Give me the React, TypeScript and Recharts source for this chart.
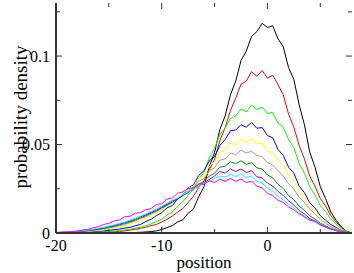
import React from 'react';
import { LineChart, Line, XAxis, YAxis } from 'recharts';

// positions (x grid)
const positions = [
  -20, -19.5, -19, -18.5, -18, -17.5, -17, -16.5, -16, -15.5, -15, -14.5, -14, -13.5, -13, -12.5,
  -12, -11.5, -11, -10.5, -10, -9.5, -9, -8.5, -8, -7.5, -7, -6.5, -6, -5.5, -5, -4.5,
  -4, -3.5, -3, -2.5, -2, -1.5, -1, -0.5, 0, 0.5, 1, 1.5, 2, 2.5, 3, 3.5,
  4, 4.5, 5, 5.5, 6, 6.5, 7, 7.5, 8,
];

const blackSeries = [
  0, 0, 0, 0, 0, 0, 0, 0, 0, 0, 0, 0.0001, 0.0001, 0.0002, 0.0002, 0.0003,
  0.0004, 0.0006, 0.0008, 0.0012, 0.002, 0.003, 0.0042, 0.0062, 0.0075, 0.0112, 0.0135, 0.0205, 0.0262, 0.0375, 0.0455, 0.0585,
  0.0662, 0.0781, 0.0858, 0.0975, 0.1028, 0.1112, 0.1138, 0.1185, 0.1162, 0.1171, 0.1098, 0.1052, 0.0935, 0.0868, 0.0725, 0.0612,
  0.0458, 0.0372, 0.0262, 0.0195, 0.0118, 0.0072, 0.0034, 0.0009, 0,
];
const redSeries = [
  0, 0, 0, 0, 0.0001, 0.0001, 0.0002, 0.0002, 0.0003, 0.0004, 0.0005, 0.0007, 0.0009, 0.0012, 0.0016, 0.0021,
  0.0026, 0.0033, 0.0042, 0.0048, 0.0062, 0.0078, 0.0096, 0.0118, 0.0138, 0.0172, 0.0208, 0.0256, 0.0295, 0.0358, 0.0415, 0.0522,
  0.0595, 0.0692, 0.0762, 0.0841, 0.0858, 0.0912, 0.0886, 0.0918, 0.0875, 0.0892, 0.0838, 0.0781, 0.0672, 0.0598, 0.0495, 0.0418,
  0.0322, 0.0265, 0.0195, 0.0152, 0.0098, 0.0062, 0.0029, 0.0009, 0,
];
const greenSeries = [
  0, 0, 0.0001, 0.0001, 0.0002, 0.0002, 0.0003, 0.0004, 0.0005, 0.0007, 0.0009, 0.0011, 0.0014, 0.0018, 0.0022, 0.0028,
  0.0032, 0.0042, 0.0052, 0.0065, 0.0078, 0.0102, 0.0118, 0.0152, 0.0176, 0.0214, 0.0246, 0.0305, 0.0342, 0.0425, 0.0478, 0.0558,
  0.0592, 0.0648, 0.0662, 0.0701, 0.0685, 0.0722, 0.0698, 0.0712, 0.0676, 0.0681, 0.0622, 0.0598, 0.0528, 0.0482, 0.0392, 0.0338,
  0.0262, 0.0215, 0.0155, 0.0122, 0.0078, 0.0051, 0.0024, 0.0008, 0,
];
const blueSeries = [
  0.0001, 0.0001, 0.0002, 0.0003, 0.0004, 0.0005, 0.0006, 0.0008, 0.001, 0.0012, 0.0015, 0.0019, 0.0022, 0.0028, 0.0032, 0.0041,
  0.0048, 0.0065, 0.0078, 0.0098, 0.0115, 0.0142, 0.0155, 0.0192, 0.0212, 0.0255, 0.0272, 0.0325, 0.0352, 0.0408, 0.0432, 0.0495,
  0.0528, 0.0578, 0.0582, 0.0612, 0.0598, 0.0625, 0.0592, 0.0596, 0.0551, 0.0538, 0.0472, 0.0438, 0.0372, 0.0338, 0.0265, 0.0228,
  0.0172, 0.0142, 0.0098, 0.0072, 0.0048, 0.0031, 0.0014, 0.0005, 0,
];
const yellowSeries = [
  0.0001, 0.0002, 0.0003, 0.0004, 0.0005, 0.0007, 0.0009, 0.0011, 0.0014, 0.0018, 0.0022, 0.0028, 0.0032, 0.0041, 0.0048, 0.0062,
  0.0071, 0.0088, 0.0098, 0.0118, 0.0128, 0.0152, 0.0165, 0.0195, 0.0212, 0.0252, 0.0265, 0.0305, 0.0322, 0.0378, 0.0402, 0.0458,
  0.0472, 0.0508, 0.0498, 0.0528, 0.0512, 0.0532, 0.0505, 0.0508, 0.0462, 0.0455, 0.0412, 0.0385, 0.0325, 0.0292, 0.0235, 0.0202,
  0.0155, 0.0122, 0.0088, 0.0062, 0.0039, 0.0025, 0.0012, 0.0004, 0,
];
const brownSeries = [
  0.0001, 0.0002, 0.0003, 0.0005, 0.0006, 0.0008, 0.0011, 0.0014, 0.0018, 0.0022, 0.0028, 0.0034, 0.0041, 0.0048, 0.0058, 0.0068,
  0.0082, 0.0092, 0.0108, 0.0121, 0.0138, 0.0155, 0.0172, 0.0195, 0.0212, 0.0242, 0.0258, 0.0292, 0.0308, 0.0352, 0.0368, 0.0412,
  0.0418, 0.0452, 0.0442, 0.0468, 0.0452, 0.0462, 0.0438, 0.0432, 0.0398, 0.0385, 0.0352, 0.0322, 0.0278, 0.0248, 0.0202, 0.0172,
  0.0135, 0.0108, 0.0078, 0.0055, 0.0036, 0.0022, 0.0011, 0.0004, 0,
];
const darkGreenSeries = [
  0.0002, 0.0003, 0.0004, 0.0006, 0.0008, 0.001, 0.0013, 0.0017, 0.0021, 0.0026, 0.0032, 0.0038, 0.0046, 0.0054, 0.0063, 0.0074,
  0.0086, 0.0098, 0.0112, 0.0125, 0.0142, 0.0158, 0.0175, 0.0192, 0.0212, 0.0232, 0.0251, 0.0275, 0.0292, 0.0322, 0.0338, 0.0372,
  0.0378, 0.0402, 0.0392, 0.0408, 0.0388, 0.0398, 0.0368, 0.0362, 0.0328, 0.0312, 0.0275, 0.0252, 0.0212, 0.0188, 0.0152, 0.0128,
  0.0098, 0.0078, 0.0056, 0.0041, 0.0026, 0.0016, 0.0008, 0.0003, 0,
];
const violetSeries = [
  0.0002, 0.0003, 0.0005, 0.0007, 0.0009, 0.0012, 0.0015, 0.0019, 0.0024, 0.0029, 0.0036, 0.0042, 0.0051, 0.0058, 0.0068, 0.0078,
  0.0092, 0.0102, 0.0118, 0.0128, 0.0148, 0.0162, 0.0182, 0.0192, 0.0215, 0.0228, 0.0252, 0.0262, 0.0285, 0.0302, 0.0322, 0.0348,
  0.0338, 0.0362, 0.0348, 0.0362, 0.0342, 0.0352, 0.0318, 0.0312, 0.0282, 0.0265, 0.0235, 0.0212, 0.0182, 0.0158, 0.0128, 0.0108,
  0.0082, 0.0066, 0.0048, 0.0034, 0.0022, 0.0013, 0.0006, 0.0002, 0,
];
const cyanSeries = [
  0.0003, 0.0004, 0.0005, 0.0007, 0.001, 0.0013, 0.0017, 0.0021, 0.0027, 0.0032, 0.0039, 0.0046, 0.0055, 0.0062, 0.0073, 0.0082,
  0.0096, 0.0108, 0.0122, 0.0135, 0.0152, 0.0168, 0.0185, 0.0198, 0.0218, 0.0232, 0.0252, 0.0262, 0.0282, 0.0292, 0.0308, 0.0322,
  0.0315, 0.0332, 0.0318, 0.0335, 0.0312, 0.0322, 0.0292, 0.0282, 0.0252, 0.0238, 0.0208, 0.0188, 0.0162, 0.0142, 0.0115, 0.0096,
  0.0074, 0.0061, 0.0044, 0.0032, 0.0021, 0.0013, 0.0006, 0.0002, 0,
];
const magentaSeries = [
  0.0003, 0.0005, 0.0006, 0.0009, 0.0011, 0.0016, 0.0021, 0.0029, 0.0036, 0.0048, 0.0055, 0.0068, 0.0074, 0.0092, 0.0095, 0.0112,
  0.0115, 0.0132, 0.0138, 0.0162, 0.0165, 0.0192, 0.0198, 0.0225, 0.0232, 0.0252, 0.0255, 0.0278, 0.0275, 0.0295, 0.0285, 0.0305,
  0.0292, 0.0308, 0.0292, 0.0305, 0.0285, 0.0292, 0.0265, 0.0255, 0.0225, 0.0212, 0.0185, 0.0172, 0.0148, 0.0132, 0.0108, 0.0092,
  0.0072, 0.0068, 0.0046, 0.0034, 0.0022, 0.0014, 0.0007, 0.0002, 0,
];

const seriesList = [
  { key: 's0', values: blackSeries, color: '#000000' },
  { key: 's1', values: redSeries, color: '#ff0000' },
  { key: 's2', values: greenSeries, color: '#00ff00' },
  { key: 's3', values: blueSeries, color: '#0000ff' },
  { key: 's4', values: yellowSeries, color: '#ffff00' },
  { key: 's5', values: brownSeries, color: '#bc8f8f' },
  { key: 's6', values: darkGreenSeries, color: '#008b00' },
  { key: 's7', values: violetSeries, color: '#9400d3' },
  { key: 's8', values: cyanSeries, color: '#00ffff' },
  { key: 's9', values: magentaSeries, color: '#ff00ff' },
];

const xTicks = [-20, -15, -10, -5, 0, 5];
const xLabelTicks = [-20, -10, 0];
const yTicks = [0, 0.025, 0.05, 0.075, 0.1, 0.125];
const yLabelTicks = [0, 0.05, 0.1];

const data = positions.map((x, i) => {
  const row: Record<string, number> = { x };
  seriesList.forEach((s) => {
    row[s.key] = s.values[i];
  });
  return row;
});

const W = 354;
const H = 273;
const PLOT_LEFT = 56;
const PLOT_RIGHT = 352;
const PLOT_TOP = 3;
const PLOT_BOTTOM = 233;
const FRAME = '#333333';
const FONT = '"Liberation Serif", "Times New Roman", serif';

const XTick = (props: any) => {
  const { x, payload } = props;
  const v = payload.value;
  const major = xLabelTicks.includes(v);
  const len = major ? 6 : 4;
  return (
    <g>
      <line x1={x} x2={x} y1={PLOT_BOTTOM} y2={PLOT_BOTTOM - len} stroke={FRAME} strokeWidth={1} />
      <line x1={x} x2={x} y1={PLOT_TOP} y2={PLOT_TOP + len} stroke={FRAME} strokeWidth={1} />
      {major && (
        <text x={x} y={PLOT_BOTTOM + 18} textAnchor="middle" fontFamily={FONT} fontSize={16} fill="#000">
          {String(v)}
        </text>
      )}
    </g>
  );
};

const YTick = (props: any) => {
  const { y, payload } = props;
  const v = payload.value;
  const major = yLabelTicks.includes(v);
  const len = major ? 6 : 4;
  return (
    <g>
      <line x1={PLOT_LEFT} x2={PLOT_LEFT + len} y1={y} y2={y} stroke={FRAME} strokeWidth={1} />
      <line x1={PLOT_RIGHT - len} x2={PLOT_RIGHT} y1={y} y2={y} stroke={FRAME} strokeWidth={1} />
      {major && (
        <text x={PLOT_LEFT - 6} y={y + 5.5} textAnchor="end" fontFamily={FONT} fontSize={16} fill="#000">
          {String(v)}
        </text>
      )}
    </g>
  );
};

const XTitle = () => (
  <text x={(PLOT_LEFT + PLOT_RIGHT) / 2} y={268} textAnchor="middle" fontFamily={FONT} fontSize={17} fill="#000">
    position
  </text>
);

const YTitle = () => {
  const cx = 20;
  const cy = 117;
  return (
    <text
      x={cx}
      y={cy}
      transform={`rotate(-90, ${cx}, ${cy})`}
      textAnchor="middle"
      dominantBaseline="central"
      fontFamily={FONT}
      fontSize={19}
      fill="#000"
    >
      probability density
    </text>
  );
};

export default function App() {
  return (
    <div style={{ position: 'absolute', left: 0, top: 0, width: W, height: H, background: '#fff' }}>
      <LineChart width={W} height={H} data={data} margin={{ top: PLOT_TOP, right: W - PLOT_RIGHT, bottom: 0, left: 0 }}>
        <XAxis
          dataKey="x"
          type="number"
          domain={[-20, 8]}
          ticks={xTicks}
          interval={0}
          allowDataOverflow
          height={H - PLOT_BOTTOM}
          tickSize={0}
          tickMargin={0}
          tick={<XTick />}
          axisLine={{ stroke: FRAME, strokeWidth: 2 }}
          tickLine={false}
          label={<XTitle />}
        />
        <XAxis
          xAxisId="top"
          orientation="top"
          dataKey="x"
          type="number"
          domain={[-20, 8]}
          height={0}
          tick={false}
          tickLine={false}
          axisLine={{ stroke: FRAME, strokeWidth: 2 }}
        />
        <YAxis
          type="number"
          domain={[0, 0.13]}
          ticks={yTicks}
          interval={0}
          allowDataOverflow
          width={PLOT_LEFT}
          tickSize={0}
          tickMargin={0}
          tick={<YTick />}
          axisLine={{ stroke: FRAME, strokeWidth: 2 }}
          tickLine={false}
          label={<YTitle />}
        />
        <YAxis
          yAxisId="right"
          orientation="right"
          type="number"
          domain={[0, 0.13]}
          width={0}
          tick={false}
          tickLine={false}
          axisLine={{ stroke: FRAME, strokeWidth: 2 }}
        />
        {seriesList.map((s) => (
          <Line
            key={s.key}
            dataKey={s.key}
            type="linear"
            stroke={s.color}
            strokeWidth={1}
            dot={false}
            activeDot={false}
            isAnimationActive={false}
          />
        ))}
      </LineChart>
    </div>
  );
}
